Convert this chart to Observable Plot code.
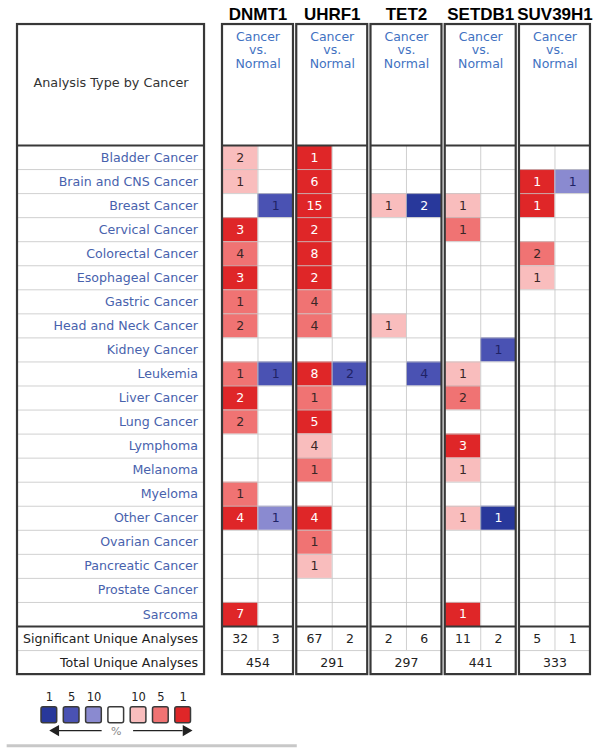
<!DOCTYPE html>
<html><head><meta charset="utf-8">
<script src="https://cdn.jsdelivr.net/npm/d3@7"></script>
<script src="https://cdn.jsdelivr.net/npm/@observablehq/plot@0.6"></script>
<style>body{margin:0;background:#fff;} #chart svg{display:block;}</style>
</head><body><div id="chart"></div>
<script>
// ---------- data ----------
const cancers = ["Bladder Cancer","Brain and CNS Cancer","Breast Cancer","Cervical Cancer","Colorectal Cancer","Esophageal Cancer","Gastric Cancer","Head and Neck Cancer","Kidney Cancer","Leukemia","Liver Cancer","Lung Cancer","Lymphoma","Melanoma","Myeloma","Other Cancer","Ovarian Cancer","Pancreatic Cancer","Prostate Cancer","Sarcoma"];
const genes = ["DNMT1","UHRF1","TET2","SETDB1","SUV39H1"];
const analysisType = "Cancer\nvs.\nNormal";
// cells: [cancer, number of analyses, gene-rank shade (1 = top 10%, 2 = top 5%, 3 = top 1%)]
const dnmt1Over = [["Bladder Cancer",2,1],["Brain and CNS Cancer",1,1],["Cervical Cancer",3,3],["Colorectal Cancer",4,2],["Esophageal Cancer",3,3],["Gastric Cancer",1,2],["Head and Neck Cancer",2,2],["Leukemia",1,2],["Liver Cancer",2,3],["Lung Cancer",2,2],["Myeloma",1,2],["Other Cancer",4,3],["Sarcoma",7,3]];
const dnmt1Under = [["Breast Cancer",1,2],["Leukemia",1,2],["Other Cancer",1,1]];
const uhrf1Over = [["Bladder Cancer",1,3],["Brain and CNS Cancer",6,3],["Breast Cancer",15,3],["Cervical Cancer",2,3],["Colorectal Cancer",8,3],["Esophageal Cancer",2,3],["Gastric Cancer",4,2],["Head and Neck Cancer",4,2],["Leukemia",8,3],["Liver Cancer",1,2],["Lung Cancer",5,3],["Lymphoma",4,1],["Melanoma",1,2],["Other Cancer",4,3],["Ovarian Cancer",1,2],["Pancreatic Cancer",1,1]];
const uhrf1Under = [["Leukemia",2,2]];
const tet2Over = [["Breast Cancer",1,1],["Head and Neck Cancer",1,1]];
const tet2Under = [["Breast Cancer",2,3],["Leukemia",4,2]];
const setdb1Over = [["Breast Cancer",1,1],["Cervical Cancer",1,2],["Leukemia",1,1],["Liver Cancer",2,2],["Lymphoma",3,3],["Melanoma",1,1],["Other Cancer",1,1],["Sarcoma",1,3]];
const setdb1Under = [["Kidney Cancer",1,2],["Other Cancer",1,3]];
const suv39h1Over = [["Brain and CNS Cancer",1,3],["Breast Cancer",1,3],["Colorectal Cancer",2,2],["Esophageal Cancer",1,1]];
const suv39h1Under = [["Brain and CNS Cancer",1,1]];
const sigOver = [32,67,2,11,5];
const sigUnder = [3,2,6,2,1];
const totalAnalyses = [454,291,297,441,333];
const summaryLabels = ["Significant Unique Analyses","Total Unique Analyses"];
const legendLabels = ["1","5","10","","10","5","1"];

// ---------- styling ----------
const redShade = {1:"#f9bdbd", 2:"#f07373", 3:"#df2628"};
const blueShade = {1:"#8a8ad0", 2:"#4a52b3", 3:"#28389b"};
const textOn = (side, s) => s === 3 ? "#ffffff" : (side === 0 ? "#3a2626" : "#1f2266");
const legendColors = [blueShade[3], blueShade[2], blueShade[1], "#ffffff", redShade[1], redShade[2], redShade[3]];
const FONT = "DejaVu Sans, Verdana, sans-serif";

// ---------- layout (in column / row units) ----------
const boxW = 0.956, half = boxW / 2;
const labelBox = {x1: -2.761, x2: -0.242};
const headTop = -5.03, bottom = 22;
const boxes = [labelBox, ...genes.map((g, i) => ({x1: i, x2: i + boxW}))];
const sets = [[dnmt1Over, dnmt1Under],[uhrf1Over, uhrf1Under],[tet2Over, tet2Under],[setdb1Over, setdb1Under],[suv39h1Over, suv39h1Under]];

const cells = [];
sets.forEach((pair, gi) => pair.forEach((list, side) => list.forEach(([c, n, s]) => {
  const r = cancers.indexOf(c);
  cells.push({x1: gi + side * half, x2: gi + (side + 1) * half, y1: r, y2: r + 1, n,
    fill: side === 0 ? redShade[s] : blueShade[s], tf: textOn(side, s)});
})));

const gridH = [];
boxes.forEach(b => { for (let k = 1; k <= 21; k++) if (k !== 20) gridH.push({y: k, x1: b.x1, x2: b.x2}); });
const thickH = [];
boxes.forEach(b => [0, 20].forEach(k => thickH.push({y: k, x1: b.x1, x2: b.x2})));

const sigCells = [];
genes.forEach((g, i) => {
  sigCells.push({x: i + half / 2, t: String(sigOver[i])});
  sigCells.push({x: i + half * 1.5, t: String(sigUnder[i])});
});

const main = Plot.plot({
  width: 604, height: 680,
  marginTop: 0, marginBottom: 0, marginLeft: 0, marginRight: 0,
  x: {type: "linear", domain: [-2.990, 5.145], range: [0, 604], axis: null},
  y: {type: "linear", domain: [-6.029, 22.245], range: [0, 680], axis: null},
  style: {fontFamily: FONT, background: "#fff"},
  marks: [
    Plot.rect(cells, {x1: "x1", x2: "x2", y1: "y1", y2: "y2", fill: "fill"}),
    Plot.ruleY(gridH, {y: "y", x1: "x1", x2: "x2", stroke: "#c4c4c4", strokeWidth: 1, strokeOpacity: 0.8}),
    Plot.ruleX(genes.map((g, i) => i + half), {x: d => d, y1: () => 0, y2: () => 21, stroke: "#c4c4c4", strokeWidth: 1, strokeOpacity: 0.8}),
    Plot.ruleY(thickH, {y: "y", x1: "x1", x2: "x2", stroke: "#383838", strokeWidth: 2.2}),
    Plot.rect(boxes, {x1: "x1", x2: "x2", y1: () => headTop, y2: () => bottom, fill: "none", stroke: "#383838", strokeWidth: 2.2}),
    // gene names
    Plot.text(genes, {x: (d, i) => i + half, y: () => -5.45, text: d => d, fontSize: 17, fontWeight: "bold", fill: "#000", fontFamily: "Liberation Sans, Arial, sans-serif"}),
    // analysis type
    Plot.text(genes, {x: (d, i) => i + half, y: () => -3.97, text: () => analysisType, fontSize: 12.5, lineHeight: 1.08, fill: "#4272c2"}),
    Plot.text(["Analysis Type by Cancer"], {x: () => (labelBox.x1 + labelBox.x2) / 2, y: () => -2.62, text: d => d, fontSize: 12.8, fill: "#333"}),
    // cancer labels
    Plot.text(cancers, {x: () => -0.33, y: (d, i) => i + 0.5, text: d => d, textAnchor: "end", fontSize: 12.6, fill: "#4862ad"}),
    Plot.text(summaryLabels, {x: () => -0.33, y: (d, i) => 20.5 + i, text: d => d, textAnchor: "end", fontSize: 12.6, fill: "#222"}),
    // cell numbers
    Plot.text(cells, {x: d => (d.x1 + d.x2) / 2, y: d => d.y1 + 0.5, text: d => String(d.n), fill: "tf", fontSize: 12.5}),
    Plot.text(sigCells, {x: "x", y: () => 20.5, text: "t", fontSize: 12.5, fill: "#222"}),
    Plot.text(totalAnalyses, {x: (d, i) => i + half, y: () => 21.5, text: d => String(d), fontSize: 12.5, fill: "#222"})
  ]
});

const swatches = legendLabels.map((l, i) => ({i, l, fill: legendColors[i]}));
const sw = 0.704;
const legend = Plot.plot({
  width: 604, height: 73,
  marginTop: 0, marginBottom: 0, marginLeft: 41, marginRight: 406.9,
  x: {type: "linear", domain: [0, 7], axis: null},
  y: {type: "linear", domain: [-1.67, 2.89], range: [0, 73], axis: null},
  style: {fontFamily: FONT, background: "#fff", overflow: "visible"},
  marks: [
    Plot.rect(swatches, {x1: "i", x2: d => d.i + sw, y1: () => 0, y2: () => 1, fill: "fill", stroke: "#3a3a3a", strokeWidth: 1.5, rx: 2}),
    Plot.text(swatches, {x: d => d.i + sw / 2, y: () => -0.62, text: "l", fontSize: 11.5, fill: "#222"}),
    Plot.ruleY([{x1: 0.75, x2: 2.72}, {x1: 4.13, x2: 6.35}], {y: () => 1.46, x1: "x1", x2: "x2", stroke: "#222", strokeWidth: 1.2}),
    Plot.dot([{x: 0.64, r: -90}, {x: 6.48, r: 90}], {x: "x", y: () => 1.46, symbol: "triangle", r: 4.2, rotate: "r", fill: "#222", stroke: "none"}),
    Plot.text(["%"], {x: () => 3 + sw / 2, y: () => 1.5, text: d => d, fontSize: 11, fill: "#888"}),
    Plot.ruleY([0], {y: () => 2.4, x1: () => -1.54, x2: () => 11.47, stroke: "#c8c8c8", strokeWidth: 3})
  ]
});

const host = document.getElementById("chart");
host.appendChild(main);
host.appendChild(legend);
</script>
</body></html>
